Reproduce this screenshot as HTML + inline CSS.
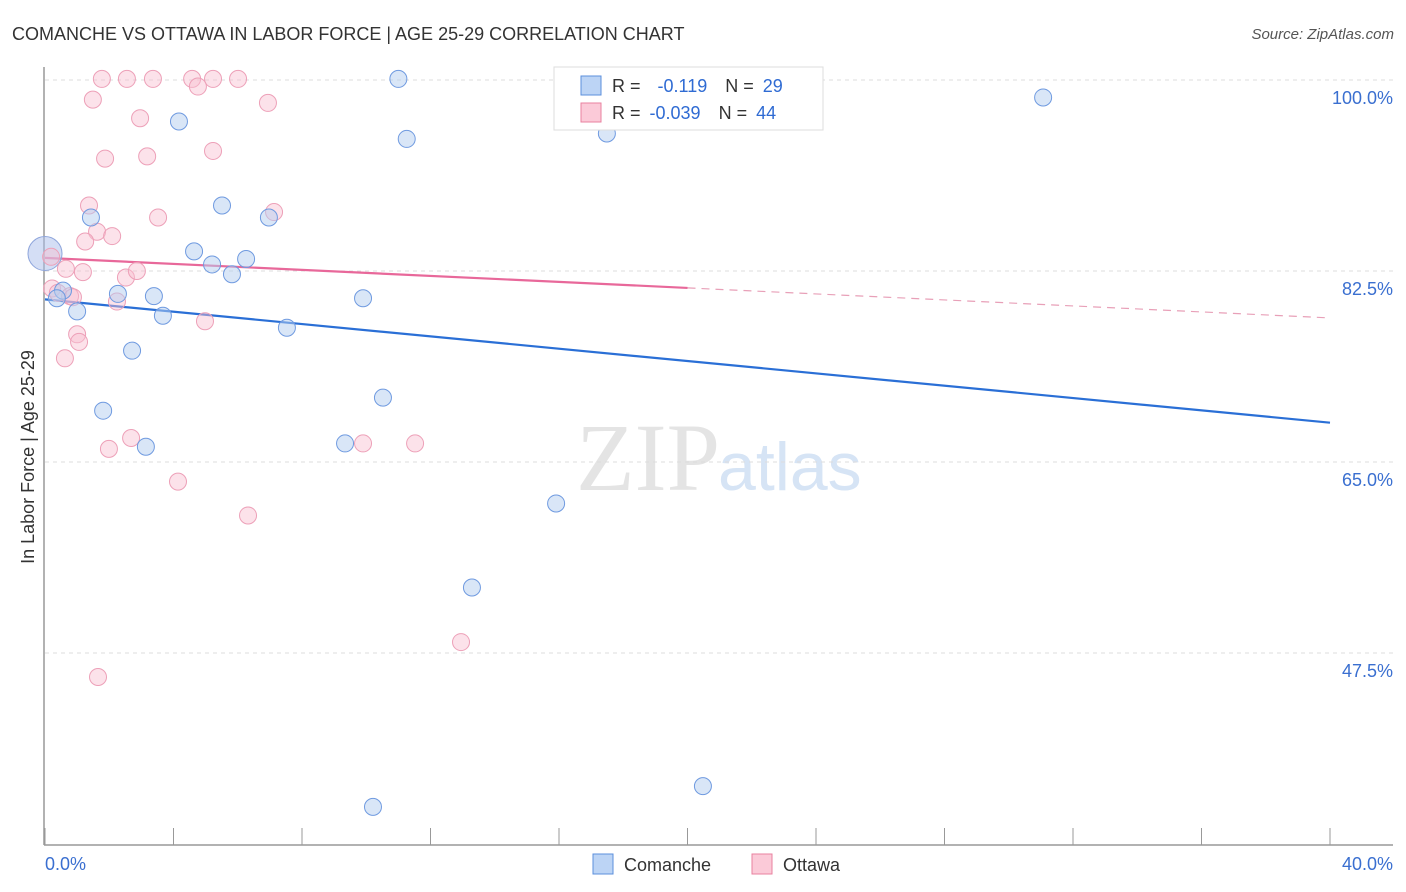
<!DOCTYPE html>
<html><head><meta charset="utf-8"><style>
body{margin:0;background:#fff;font-family:"Liberation Sans",sans-serif}
svg{display:block}
</style></head><body>
<svg id="c" width="1406" height="892">
<text x="12" y="40" font-size="18" fill="#333">COMANCHE VS OTTAWA IN LABOR FORCE | AGE 25-29 CORRELATION CHART</text>
<text x="1394" y="39" font-size="15" fill="#555" font-style="italic" text-anchor="end">Source: ZipAtlas.com</text>
<text x="720" y="490" font-size="96" fill="#e4e4e4" text-anchor="end" font-family="Liberation Serif">ZIP</text>
<text x="718" y="490" font-size="68" fill="#d6e4f5">atlas</text>
<g id="grid"></g><g id="axes"></g><g id="lines"></g><g id="pts"></g>
<text transform="translate(34,457) rotate(-90)" font-size="18" fill="#333" text-anchor="middle">In Labor Force | Age 25-29</text>
<text x="45" y="870" font-size="18" fill="#3a6fd0">0.0%</text>
<text x="1393" y="870" font-size="18" fill="#3a6fd0" text-anchor="end">40.0%</text>
<g>
<rect x="554" y="67" width="269" height="63" fill="#fff" stroke="#ddd"/>
<rect x="581" y="76" width="20" height="19" fill="#bcd4f5" stroke="#5b8fdc"/>
<rect x="581" y="103" width="20" height="19" fill="#fbcad8" stroke="#e8819f"/>
<text x="612" y="92" font-size="18" fill="#333">R = <tspan fill="#2f6bd3" dx="12">-0.119</tspan><tspan dx="18" fill="#333">N = </tspan><tspan fill="#2f6bd3" dx="4">29</tspan></text>
<text x="612" y="119" font-size="18" fill="#333">R = <tspan fill="#2f6bd3" dx="4">-0.039</tspan><tspan dx="18" fill="#333">N = </tspan><tspan fill="#2f6bd3" dx="4">44</tspan></text>
</g>
<g>
<rect x="593" y="854" width="20" height="20" fill="#bcd4f5" stroke="#5b8fdc"/>
<text x="624" y="871" font-size="18" fill="#333">Comanche</text>
<rect x="752" y="854" width="20" height="20" fill="#fbcad8" stroke="#e8819f"/>
<text x="783" y="871" font-size="18" fill="#333">Ottawa</text>
</g>
</svg>
<script>
const yTicks=[100,82.5,65,47.5];
const yTickLabels=["100.0%","82.5%","65.0%","47.5%"];
const xTicks=[0,4,8,12,16,20,24,28,32,36,40];
const comanche=[[11.0,100.1],[31.07,98.4],[4.17,96.2],[11.26,94.6],[17.49,95.1],[5.51,88.5],[1.43,87.4],[6.97,87.4],[4.64,84.3],[5.20,83.1],[6.26,83.6],[5.82,82.2],[2.27,80.4],[3.39,80.2],[0.56,80.7],[0.37,80.0],[1.0,78.8],[3.67,78.4],[9.90,80.0],[7.53,77.3],[2.71,75.2],[10.52,70.9],[1.81,69.7],[3.14,66.4],[9.34,66.7],[15.91,61.2],[13.29,53.5],[20.48,35.3],[10.21,33.4]];
const ottawa=[[1.77,100.1],[2.55,100.1],[3.36,100.1],[4.58,100.1],[5.23,100.1],[6.01,100.1],[4.76,99.4],[1.49,98.2],[6.94,97.9],[2.96,96.5],[1.87,92.8],[3.18,93.0],[5.23,93.5],[1.37,88.5],[3.52,87.4],[7.13,87.9],[1.62,86.1],[1.25,85.2],[2.09,85.7],[0.65,82.7],[1.18,82.4],[2.52,81.9],[2.86,82.5],[0.19,83.8],[0.22,80.9],[0.40,80.5],[0.78,80.2],[0.87,80.1],[2.24,79.7],[4.98,77.9],[1.0,76.7],[1.06,76.0],[0.62,74.5],[2.68,67.2],[1.99,66.2],[9.90,66.7],[11.52,66.7],[4.14,63.2],[6.32,60.1],[12.95,48.5],[1.65,45.3]];
const bigPoint=[0,84.1];
const blueTrend=[79.9,68.6];
const pinkTrend=[83.7,78.2];
const pinkSolidEnd=20;
const NS="http://www.w3.org/2000/svg";
const X=v=>45+v*32.125, Y=v=>80+(100-v)*10.914;
function mk(tag,attrs,parent){const e=document.createElementNS(NS,tag);for(const k in attrs)e.setAttribute(k,attrs[k]);document.getElementById(parent).appendChild(e);return e;}
yTicks.forEach((t,i)=>{
 const l=mk('line',{x1:45,x2:1393,y1:Y(t),y2:Y(t),stroke:'#ddd','stroke-dasharray':'4 4'},'grid');
 
 
 const tx=mk('text',{x:1393,y:Y(t)+24,'font-size':18,fill:'#3a6fd0','text-anchor':'end'},'grid');
 tx.textContent=yTickLabels[i];
 
 
});
const ya=mk('line',{x1:44,x2:44,y1:67,y2:845,stroke:'#999','stroke-width':1.5},'axes');


const xa=mk('line',{x1:44,x2:1393,y1:845,y2:845,stroke:'#999','stroke-width':1.5},'axes');


xTicks.forEach(t=>{
 const k=mk('line',{x1:X(t),x2:X(t),y1:828,y2:845,stroke:'#999'},'axes');
 
 
});
const ps=(pinkTrend[1]-pinkTrend[0])/40;
const bl=mk('line',{x1:X(0),y1:Y(blueTrend[0]),x2:X(40),y2:Y(blueTrend[1]),stroke:'#2a6fd6','stroke-width':2.2},'lines');


const pl=mk('line',{x1:X(0),y1:Y(pinkTrend[0]),x2:X(pinkSolidEnd),y2:Y(pinkTrend[0]+ps*pinkSolidEnd),stroke:'#e8689a','stroke-width':2.2},'lines');


const pd=mk('line',{x1:X(pinkSolidEnd),y1:Y(pinkTrend[0]+ps*pinkSolidEnd),x2:X(40),y2:Y(pinkTrend[1]),stroke:'#e8a0b8','stroke-width':1.2,'stroke-dasharray':'8 6'},'lines');


const bp=mk('circle',{cx:X(bigPoint[0]),cy:Y(bigPoint[1]),r:17,fill:'rgba(170,190,235,0.5)',stroke:'#8fa6dc','stroke-width':1},'pts');


ottawa.forEach(p=>{
 const c=mk('circle',{cx:X(p[0]),cy:Y(p[1]),r:8.5,fill:'rgba(248,190,208,0.45)',stroke:'#eda0b8','stroke-width':1},'pts');
 
 
});
comanche.forEach(p=>{
 const c=mk('circle',{cx:X(p[0]),cy:Y(p[1]),r:8.5,fill:'rgba(180,205,240,0.5)',stroke:'#6f9ae0','stroke-width':1},'pts');
 
 
});
</script>
</body></html>
